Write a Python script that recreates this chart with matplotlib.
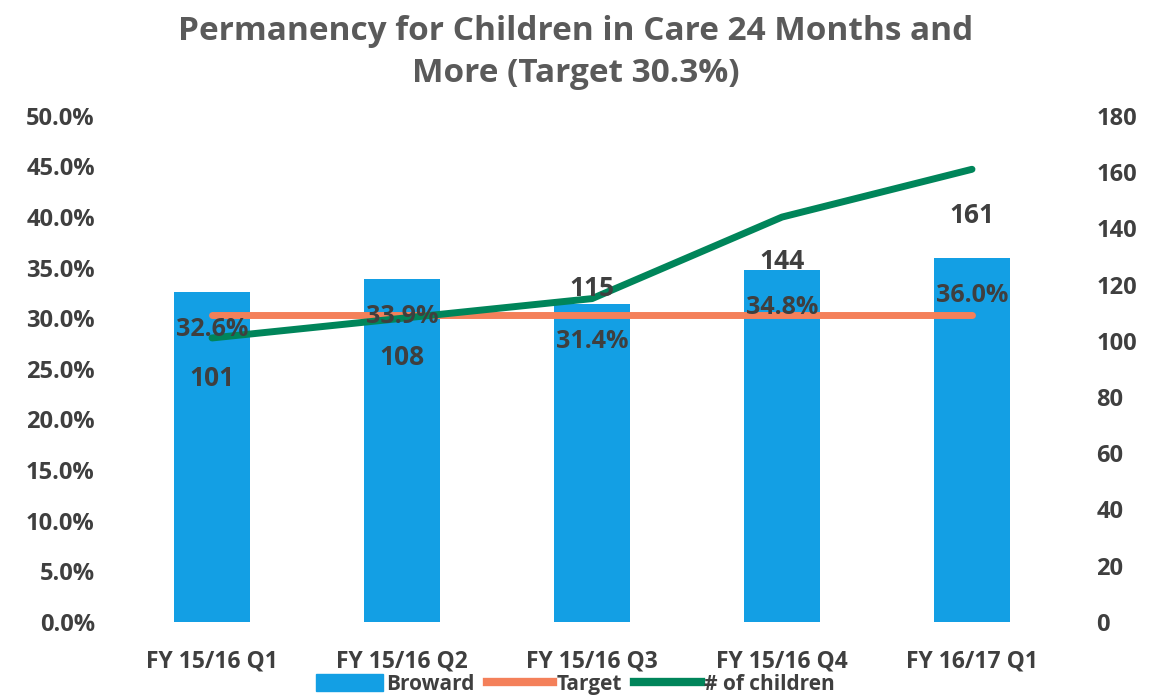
import numpy as np
import matplotlib.pyplot as plt
from matplotlib.patches import Patch
from matplotlib.lines import Line2D

quarters = ["FY 15/16 Q1", "FY 15/16 Q2", "FY 15/16 Q3", "FY 15/16 Q4", "FY 16/17 Q1"]
broward = [32.6, 33.9, 31.4, 34.8, 36.0]
target = [30.3, 30.3, 30.3, 30.3, 30.3]
children = [101, 108, 115, 144, 161]

BLUE = "#139fe4"
ORANGE = "#f4805a"
GREEN = "#00855a"
TEXT = "#3f3f3f"

plt.rcParams['font.family'] = ['Open Sans', 'DejaVu Sans']

fig = plt.figure(figsize=(11.51, 6.98), dpi=100)
ax = fig.add_axes([0.1017, 0.109, 0.8253, 0.725])
ax2 = ax.twinx()

x = np.arange(len(quarters))
ax.bar(x, broward, width=0.4, color=BLUE, zorder=1)
ax.plot(x, target, color=ORANGE, lw=5, solid_capstyle='round', zorder=2)
ax2.plot(x, children, color=GREEN, lw=5, solid_capstyle='round', zorder=3)

ax.set_xlim(-0.5, len(quarters) - 0.5)
ax.set_ylim(0, 50)
ax2.set_ylim(0, 180)
ax.set_yticks(np.arange(0, 50.1, 5))
ax.set_yticklabels([f"{v:.1f}%" for v in np.arange(0, 50.1, 5)])
ax2.set_yticks(np.arange(0, 181, 20))
ax.set_xticks(x)
ax.set_xticklabels(quarters)

for a in (ax, ax2):
    for s in a.spines.values():
        s.set_visible(False)
    a.tick_params(length=0, labelsize=17, labelcolor=TEXT)
    for lab in a.get_yticklabels():
        lab.set_fontweight('bold')
ax.tick_params(axis='y', pad=16)
ax2.tick_params(axis='y', pad=21)
ax.tick_params(axis='x', pad=20, labelsize=16.5)
for lab in ax.get_xticklabels():
    lab.set_fontweight('bold')

# percent labels inside bar ends (drawn on ax2 so they sit above the lines)
for xi, v in zip(x, broward):
    ax2.annotate(f"{v:.1f}%", (xi, v), xycoords=ax.transData, xytext=(0, -27),
                 textcoords='offset points', ha='center', va='center',
                 fontsize=18, fontweight='bold', color=TEXT, zorder=5)

# count labels
count_offsets = [-29, -28, 7, -32, -33]
for xi, v, off in zip(x, children, count_offsets):
    ax2.annotate(f"{v}", (xi, v), xytext=(0, off), textcoords='offset points',
                 ha='center', va='center', fontsize=19, fontweight='bold',
                 color=TEXT, zorder=5)

fig.suptitle("Permanency for Children in Care 24 Months and\nMore (Target 30.3%)",
             x=0.5, y=0.978, fontsize=24, color="#5a5a5a", fontweight='bold',
             linespacing=1.35)

handles = [Patch(color=BLUE), Line2D([], [], color=ORANGE, lw=6),
           Line2D([], [], color=GREEN, lw=6)]
fig.legend(handles, ["Broward", "Target", "# of children"], loc='center',
           bbox_to_anchor=(0.5, 0.02), ncol=3, frameon=False,
           handlelength=3.2, handleheight=0.9, handletextpad=0.15, columnspacing=0.6,
           labelcolor=TEXT, prop={'weight': 'bold', 'size': 15})

fig.savefig("out.png", dpi=100)
